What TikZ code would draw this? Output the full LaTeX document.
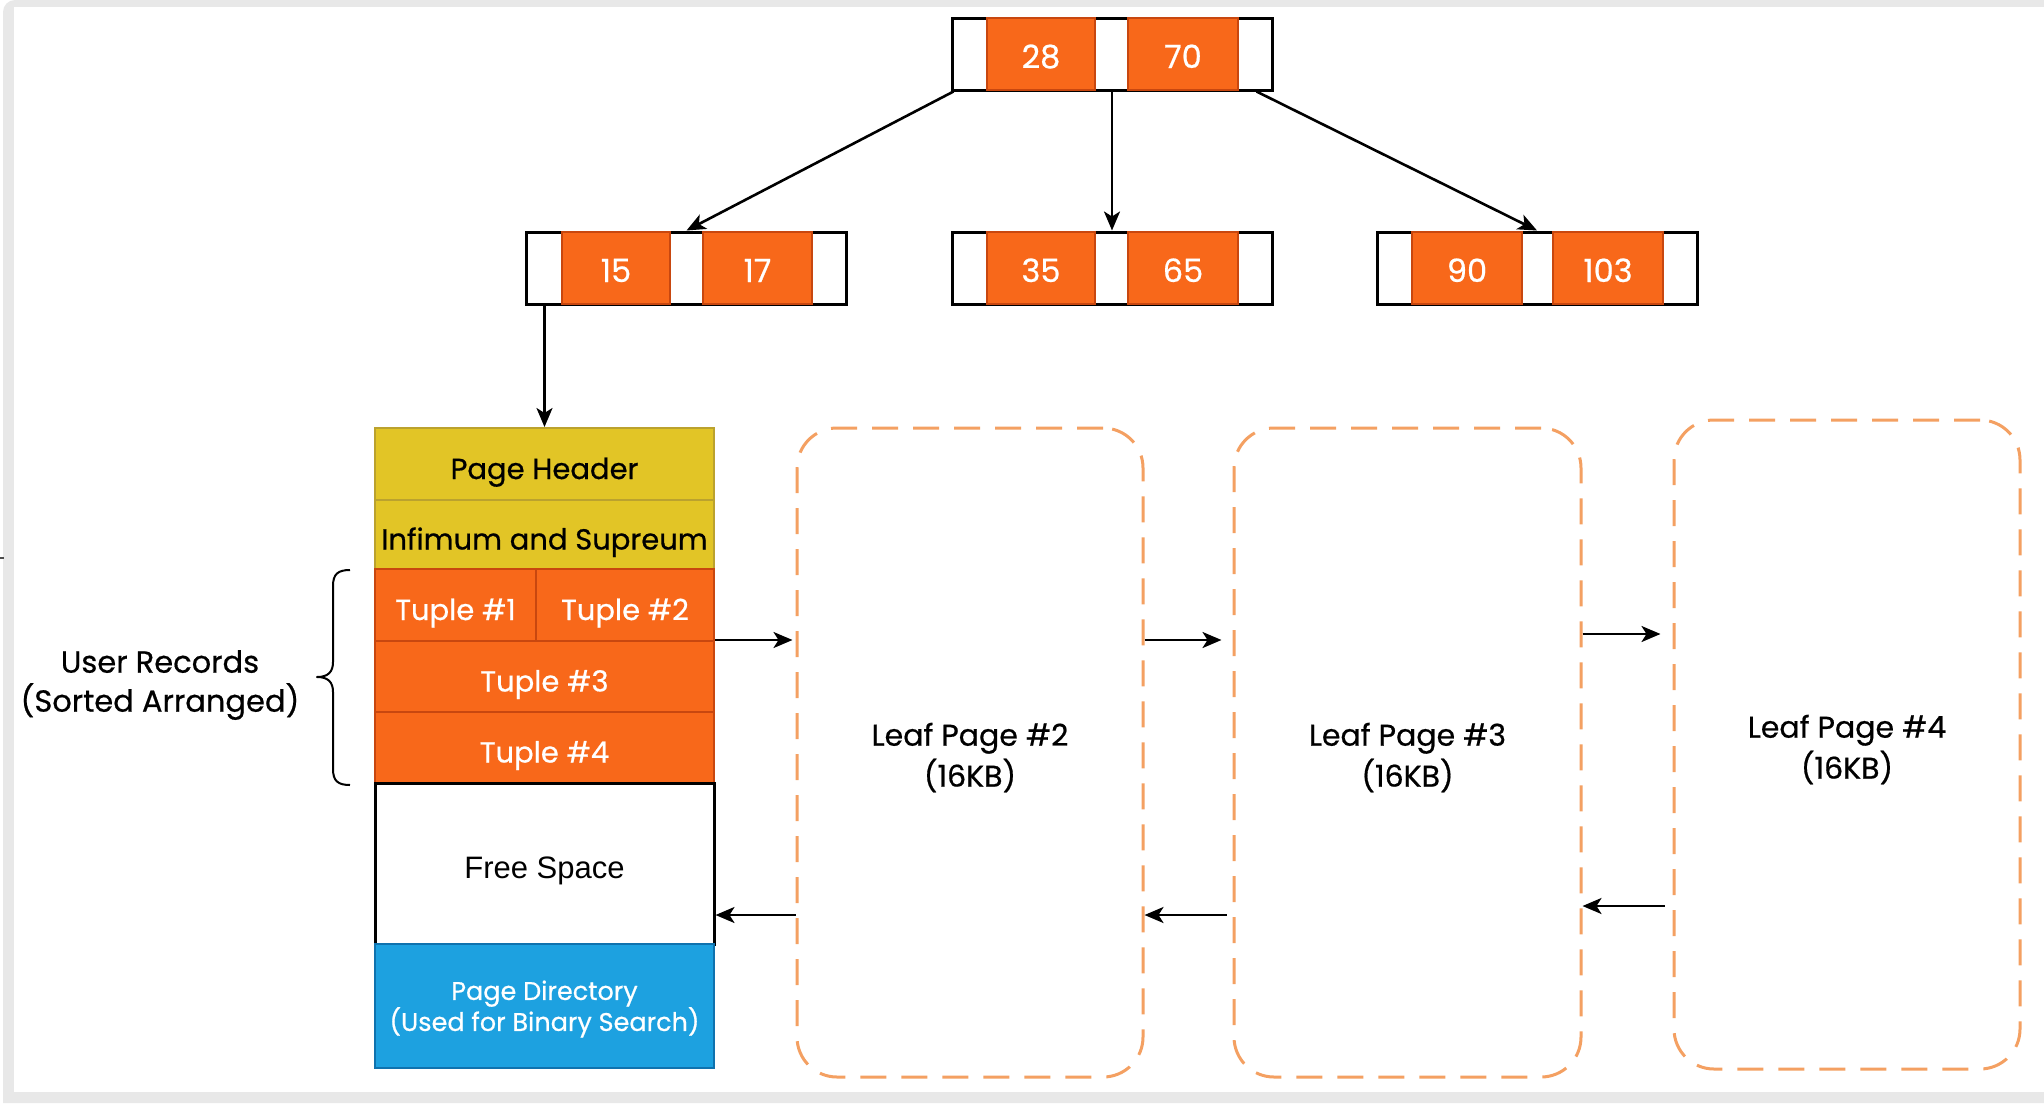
\documentclass[tikz,border=0pt]{standalone}
\usepackage{fontspec}
\setmainfont{Poppins}[FakeBold=0.6]
\newfontfamily\helv{Liberation Sans}
\usetikzlibrary{arrows.meta,calc}

\definecolor{keyorange}{HTML}{F8681A}
\definecolor{keyedge}{HTML}{C8470F}
\definecolor{hdryellow}{HTML}{E2C526}
\definecolor{hdredge}{HTML}{BBA22E}
\definecolor{dirblue}{HTML}{1DA1E0}
\definecolor{diredge}{HTML}{0F72AE}
\definecolor{leafedge}{HTML}{F4A062}
\definecolor{framegray}{HTML}{E8E8E8}

\begin{document}
\begin{tikzpicture}[x=1pt,y=-1pt,
  treebox/.style={draw=black, line width=3pt, fill=white, minimum width=320pt,
    minimum height=72pt, inner sep=0pt},
  keycell/.style={draw=keyedge, line width=2pt, fill=keyorange, text=white,
    minimum height=72pt, inner sep=0pt, text height=28pt, text depth=0pt,
    font=\fontsize{32}{36}\selectfont},
  rowcell/.style={line width=2pt, inner sep=0pt, text height=30pt, text depth=0pt,
    font=\fontsize{29}{34}\selectfont},
  yellowrow/.style={rowcell, draw=hdredge, fill=hdryellow, text=black},
  orangerow/.style={rowcell, draw=keyedge, fill=keyorange, text=white},
  leafpage/.style={draw=leafedge, line width=3pt, dash pattern=on 26pt off 15pt,
    rounded corners=40pt, minimum width=346pt, minimum height=649pt, inner sep=0pt},
  leaflabel/.style={align=center, inner sep=0pt, font=\fontsize{30}{41}\selectfont},
  arr/.style={-{Stealth[length=19pt,width=16pt,inset=5pt]}, line width=2.6pt}
]
\useasboundingbox (0,0) rectangle (2044,1103);

% window frame
\fill[white] (0,0) rectangle (2044,1103);
\fill[framegray] (3,1103) [rounded corners=12pt] -- (3,0) [sharp corners] -- (2044,0) -- (2044,1103) -- cycle;
\fill[white] (14,7) rectangle (2044,1092);
\draw[line width=1.5pt, black!70] (0,558) -- (4,558);

% B+ tree: root
\node[treebox] (root) at (1112,54) {};
\node[keycell, minimum width=108pt] (r28) at (1041,54) {28};
\node[keycell, minimum width=110pt] (r70) at (1183,54) {70};

% B+ tree: internal level
\node[treebox] (n1) at (686.5,268) {};
\node[keycell, minimum width=108pt] (k15) at (616,268) {15};
\node[keycell, minimum width=109pt] (k17) at (757.5,268) {17};

\node[treebox] (n2) at (1112,268) {};
\node[keycell, minimum width=108pt] (k35) at (1041,268) {35};
\node[keycell, minimum width=110pt] (k65) at (1183,268) {65};

\node[treebox] (n3) at (1537,268) {};
\node[keycell, minimum width=110pt] (k90) at (1467,268) {90};
\node[keycell, minimum width=110pt] (k103) at (1608,268) {103};

\draw[arr] ([xshift=3pt]root.south west) -- (n1.north);
\draw[arr] (root.south) -- (n2.north);
\draw[arr] ([xshift=-17pt]root.south east) -- (n3.north);

% leaf page #1 layout
\node[yellowrow, minimum width=339pt, minimum height=72pt] (hdr) at (544.5,464) {Page Header};
\node[yellowrow, minimum width=339pt, minimum height=69pt] (inf) at (544.5,534.5) {Infimum and Supreum};
\node[orangerow, minimum width=161pt, minimum height=72pt] (t1) at (455.5,605) {Tuple \#1};
\node[orangerow, minimum width=178pt, minimum height=72pt] (t2) at (625,605) {Tuple \#2};
\node[orangerow, minimum width=339pt, minimum height=71pt] (t3) at (544.5,676.5) {Tuple \#3};
\node[orangerow, minimum width=339pt, minimum height=71pt] (t4) at (544.5,747.5) {Tuple \#4};
\node[draw=black, line width=3pt, fill=white, minimum width=339pt, minimum height=161pt,
  inner sep=0pt, text height=29pt, text depth=0pt,
  font=\helv\fontsize{31}{36}\selectfont] (free) at (544.5,863.5) {Free Space};
\node[draw=diredge, line width=2pt, fill=dirblue, minimum width=339pt,
  minimum height=124pt, inner sep=0pt] (dir) at (544.5,1006) {};
\node[align=center, text=white, inner sep=0pt, font=\fontsize{25.5}{31}\selectfont]
  (dirtxt) at ([yshift=-3pt]dir.center) {Page Directory\\(Used for Binary Search)};

\draw[arr] (hdr.north |- n1.south) -- (hdr.north);

% user records brace and label
\draw[line width=2pt, line join=round] (350,570) .. controls (338,570) and (333,574) .. (333,586)
  -- (333,662) .. controls (333,672) and (328,677) .. (317,677)
  .. controls (328,677) and (333,682) .. (333,692)
  -- (333,769) .. controls (333,781) and (338,785) .. (350,785);
\node[align=center, inner sep=0pt, font=\fontsize{30.5}{39}\selectfont] (urec) at (160,685)
  {User Records\\(Sorted Arranged)};

% sibling leaf pages
\node[leafpage] (leaf2) at (970,752.5) {};
\node[leafpage, minimum width=347pt] (leaf3) at (1407.5,752.5) {};
\node[leafpage] (leaf4) at (1847,744.5) {};
\node[leaflabel] (leaf2txt) at ([yshift=-5pt]leaf2.center) {Leaf Page \#2\\(16KB)};
\node[leaflabel] (leaf3txt) at ([yshift=-5pt]leaf3.center) {Leaf Page \#3\\(16KB)};
\node[leaflabel] (leaf4txt) at ([yshift=-5pt]leaf4.center) {Leaf Page \#4\\(16KB)};

% forward links
\draw[arr, shorten >=3pt] (t3.north east) -- (leaf2.west |- t3.north);
\draw[arr, shorten >=11pt] (leaf2.east |- t3.north) -- (leaf3.west |- t3.north);
\draw[arr, shorten >=12pt] (leaf3.east |- 0,634) -- (leaf4.west |- 0,634);

% backward links
\draw[arr, shorten <=8pt] (leaf4.west |- 0,906) -- (leaf3.east |- 0,906);
\draw[arr, shorten <=6pt] (leaf3.west |- 0,915) -- (leaf2.east |- 0,915);
\draw[arr] (leaf2.west |- 0,915) -- (free.east |- 0,915);
\end{tikzpicture}
\end{document}
